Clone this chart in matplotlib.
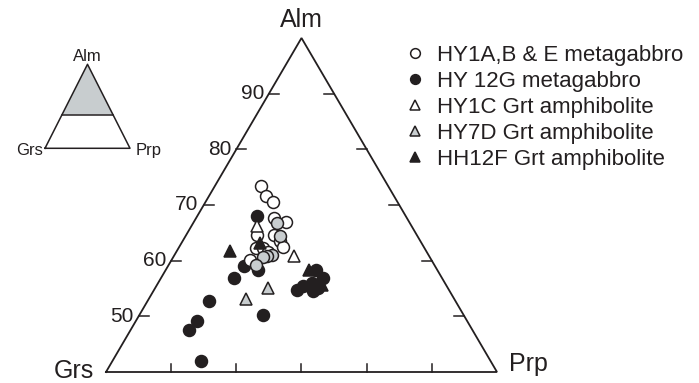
import numpy as np
import matplotlib
matplotlib.use('Agg')
import matplotlib.pyplot as plt
from matplotlib.patches import Polygon

plt.rcParams['font.family'] = ['Liberation Sans', 'DejaVu Sans']

# garnet end-member proportions (mol %)
# HY1A,B & E metagabbro (open circles)
hy1abe_alm = [73.5, 71.6, 70.5, 67.6, 66.9, 64.7, 64.7, 63.5, 62.5, 62.2, 60.2, 62.3, 61.6]
hy1abe_grs = [19.5, 19.7, 19.2, 20.4, 19.0, 24.5, 21.9, 21.5, 21.6, 25.9, 27.8, 24.8, 24.4]
hy1abe_prp = [7.0, 8.7, 10.3, 12.0, 14.1, 10.8, 13.4, 15.0, 15.9, 11.9, 12.0, 12.9, 14.0]

# grey circles (not in the legend)
grey_alm = [66.8, 64.4, 61.1, 60.8, 60.7, 59.3]
grey_grs = [20.4, 21.1, 24.0, 24.9, 25.6, 27.3]
grey_prp = [12.8, 14.5, 14.9, 14.3, 13.7, 13.4]

# HY 12G metagabbro (filled circles)
hy12g_alm = [68.0, 59.0, 58.4, 56.9, 52.7, 49.1, 47.6, 42.0, 50.3, 54.8, 55.5, 56.0, 54.5, 58.4, 56.9, 55.1]
hy12g_grs = [22.9, 29.4, 27.4, 31.9, 37.8, 41.5, 43.4, 44.4, 30.7, 23.3, 22.0, 20.4, 21.0, 18.5, 18.3, 19.9]
hy12g_prp = [9.1, 11.6, 14.2, 11.2, 9.5, 9.4, 9.0, 13.6, 19.0, 21.9, 22.5, 23.6, 24.5, 23.1, 24.8, 25.0]

# HY1C Grt amphibolite (open triangles)
hy1c_alm = [66.3, 60.8]
hy1c_grs = [23.7, 20.8]
hy1c_prp = [10.0, 18.4]

# HY7D Grt amphibolite (grey triangles)
hy7d_alm = [55.1, 53.1]
hy7d_grs = [27.6, 32.0]
hy7d_prp = [17.3, 14.9]

# HH12F Grt amphibolite (filled triangles)
hh12f_alm = [61.7, 63.2, 58.4, 55.7]
hh12f_grs = [30.1, 24.8, 19.6, 19.0]
hh12f_prp = [8.2, 12.0, 22.0, 25.3]

legend_labels = ['HY1A,B & E metagabbro', 'HY 12G metagabbro', 'HY1C Grt amphibolite',
                 'HY7D Grt amphibolite', 'HH12F Grt amphibolite']
left_ticks = [50, 60, 70, 80, 90]
bottom_ticks = [10, 20, 30, 40, 50]

ALM_MIN = 40.0
H = np.sqrt(3) / 2
DARK = '#231f20'
GREY = '#c8cdcf'


def tern(alm, grs, prp):
    """Alm-Grs-Prp (%) -> x, y in the truncated triangle (Alm >= 40)."""
    alm, grs, prp = [np.asarray(v, float) for v in (alm, grs, prp)]
    tot = alm + grs + prp
    alm, prp = 100 * alm / tot, 100 * prp / tot
    a = (alm - ALM_MIN) / (100 - ALM_MIN)
    p = prp / (100 - ALM_MIN)
    return p + a / 2, a * H


W, Hpx = 699, 383
fig = plt.figure(figsize=(W / 100, Hpx / 100), dpi=100)
ax = fig.add_axes([0, 0, 1, 1])
# triangle corners at pixel (106,372), (497,372), apex y=38
kx = 1 / 391.0
ky = H / 334.0
ax.set_xlim(-106 * kx, (W - 106) * kx)
ax.set_ylim(-(Hpx - 372) * ky, 372 * ky)
ax.axis('off')

# outline
ax.plot([0, 1, 0.5, 0], [0, 0, H, 0], color=DARK, lw=1.3, solid_joinstyle='miter', zorder=1)

# ticks
for v in left_ticks:
    a = (v - ALM_MIN) / (100 - ALM_MIN)
    ax.plot([a / 2, a / 2 + 10 * kx], [a * H, a * H], color=DARK, lw=1.1)
    ax.plot([1 - a / 2, 1 - a / 2 - 10 * kx], [a * H, a * H], color=DARK, lw=1.1)
    ax.text(a / 2 - 5 * kx, a * H, str(v), ha='right', va='center', fontsize=15, color=DARK)
for v in bottom_ticks:
    x = v / (100 - ALM_MIN)
    ax.plot([x, x], [0, 8 * ky], color=DARK, lw=1.1)

ax.annotate('Alm', xy=(0.5, H), xytext=(0, 8), textcoords='offset points',
            ha='center', va='baseline', fontsize=18, color=DARK)
ax.annotate('Grs', xy=(0, 0), xytext=(-8.5, -4.5), textcoords='offset points',
            ha='right', va='baseline', fontsize=18, color=DARK)
ax.annotate('Prp', xy=(1, 0), xytext=(8.5, 0.5), textcoords='offset points',
            ha='left', va='baseline', fontsize=18, color=DARK)

ms = 8.6
mew = 1.1
x, y = tern(hy12g_alm, hy12g_grs, hy12g_prp)
ax.plot(x, y, 'o', ms=ms, mfc=DARK, mec=DARK, mew=mew, zorder=3)
x, y = tern(hy1abe_alm, hy1abe_grs, hy1abe_prp)
ax.plot(x, y, 'o', ms=ms, mfc='white', mec=DARK, mew=mew, zorder=3)
x, y = tern(grey_alm, grey_grs, grey_prp)
ax.plot(x, y, 'o', ms=ms, mfc=GREY, mec=DARK, mew=mew, zorder=3)
x, y = tern(hy1c_alm, hy1c_grs, hy1c_prp)
ax.plot(x, y, '^', ms=ms + 0.6, mfc='white', mec=DARK, mew=mew, zorder=4)
x, y = tern(hy7d_alm, hy7d_grs, hy7d_prp)
ax.plot(x, y, '^', ms=ms + 0.6, mfc=GREY, mec=DARK, mew=mew, zorder=4)
x, y = tern(hh12f_alm, hh12f_grs, hh12f_prp)
ax.plot(x, y, '^', ms=ms + 0.6, mfc=DARK, mec=DARK, mew=mew, zorder=4)

# legend (drawn by hand so the rows sit where they do in the figure)
leg_style = [('o', 'white'), ('o', DARK), ('^', 'white'), ('^', GREY), ('^', DARK)]
for i, (lab, (mk, fc)) in enumerate(zip(legend_labels, leg_style)):
    yy = 1 - (53 + 26 * i) / Hpx
    ax.plot(415 / W, yy, mk, ms=7, mfc=fc, mec=DARK, mew=1.1, transform=ax.transAxes, clip_on=False)
    ax.text(437 / W, yy, lab, transform=ax.transAxes, ha='left', va='center_baseline',
            fontsize=16, color=DARK)

# inset: whole ternary with the Alm > 40 part shaded
axi = fig.add_axes([45 / W, 1 - 148.3 / Hpx, 85 / W, 84 / Hpx])
axi.set_xlim(0, 1)
axi.set_ylim(0, 1)
axi.axis('off')
cut = ALM_MIN / 100
axi.add_patch(Polygon([[cut / 2, cut], [1 - cut / 2, cut], [0.5, 1]], closed=True,
                      facecolor=GREY, edgecolor='none'))
axi.plot([0, 1, 0.5, 0], [0, 0, 1, 0], color=DARK, lw=1.1, clip_on=False)
axi.plot([cut / 2, 1 - cut / 2], [cut, cut], color=DARK, lw=1.1)
axi.annotate('Alm', xy=(0.5, 1), xytext=(0, 2.5), textcoords='offset points',
             ha='center', va='baseline', fontsize=12, color=DARK, annotation_clip=False)
axi.annotate('Grs', xy=(0, 0), xytext=(-1.5, -4.5), textcoords='offset points',
             ha='right', va='baseline', fontsize=12, color=DARK, annotation_clip=False)
axi.annotate('Prp', xy=(1, 0), xytext=(4, -4.5), textcoords='offset points',
             ha='left', va='baseline', fontsize=12, color=DARK, annotation_clip=False)

fig.savefig('out.png', dpi=100)
